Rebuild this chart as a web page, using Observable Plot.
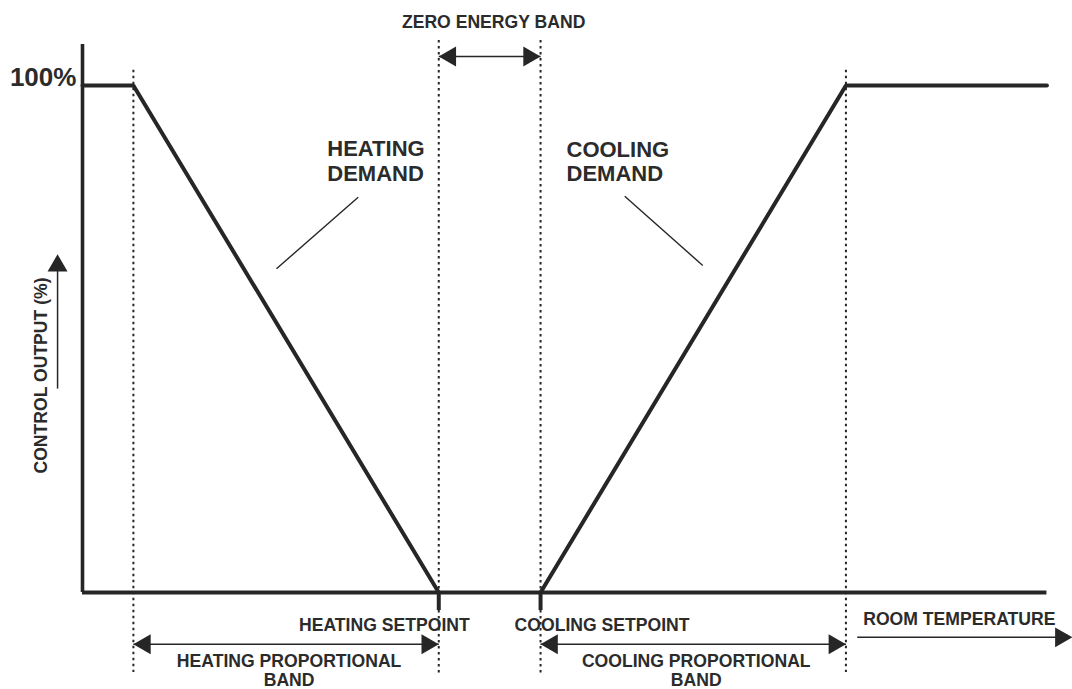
<!DOCTYPE html>
<html>
<head>
<meta charset="utf-8">
<script src="https://cdn.jsdelivr.net/npm/d3@7"></script>
<script src="https://cdn.jsdelivr.net/npm/@observablehq/plot@0.6"></script>
<style>
  html, body { margin: 0; padding: 0; background: #fff; }
</style>
</head>
<body>
<div id="chart"></div>
<script>
// ---- Data (room temperature in arbitrary band units, control output in %) ----
const heatingTemp = [0, 1, 7];
const heatingOutput = [100, 100, 0];
const coolingTemp = [9, 15, 18.95];
const coolingOutput = [0, 100, 100];

const axisEndTemp = 18.95;
const axisTopOutput = 108.1;

const setpointTemp = [7, 9];
const setpointNames = ["HEATING SETPOINT", "COOLING SETPOINT"];

const guideTemp = [1, 7, 9, 15];
const guideTop = [103, 108.9, 108.9, 103];
const guideBottom = [-15.8, -16, -16, -15.8];

const bandNames = ["ZERO ENERGY BAND", "HEATING PROPORTIONAL\nBAND", "COOLING PROPORTIONAL\nBAND"];
const bandStart = [7, 1, 9];
const bandEnd = [9, 7, 15];
const bandLevel = [105.7, -10.2, -10.2];

const roomTempArrow = {start: 15.34, end: 19.45, level: -8.85};
const outputArrow = {temp: -0.49, from: 41.4, to: 66.7};

const demandNames = ["HEATING\nDEMAND", "COOLING\nDEMAND"];
const demandTemp = [4.81, 9.51];
const demandOutput = [81.2, 81.1];
const leaderFrom = [[5.417, 77.97], [10.654, 78.17]];
const leaderTo = [[3.811, 63.85], [12.187, 64.5]];

// ---- Derived tables ----
const heating = heatingTemp.map((t, i) => ({t, o: heatingOutput[i]}));
const cooling = coolingTemp.map((t, i) => ({t, o: coolingOutput[i]}));
const guides = guideTemp.map((t, i) => ({t, top: guideTop[i], bottom: guideBottom[i]}));
const bands = bandNames.map((name, i) => ({name, a: bandStart[i], b: bandEnd[i], y: bandLevel[i]}));
const leaders = leaderFrom.map((f, i) => ({x1: f[0], y1: f[1], x2: leaderTo[i][0], y2: leaderTo[i][1]}));
const demands = demandNames.map((name, i) => ({name, t: demandTemp[i], o: demandOutput[i]}));

const ink = "#262626";
const txt = "#2b2b2b";
const font = "'Liberation Sans', Arial, Helvetica, sans-serif";
const small = 17.6;
const headR = 7.42;   // triangle head radius
const headOff = 11.5; // tip-to-centroid offset in px

const label = {lineAnchor: "bottom", fontSize: small, fontWeight: "bold", fill: txt};

const chart = Plot.plot({
  width: 1072,
  height: 689,
  marginLeft: 82,
  marginRight: 23,
  marginTop: 85,
  marginBottom: 97,
  x: {domain: [0, 19], axis: null},
  y: {domain: [0, 100], axis: null},
  style: {fontFamily: font, background: "#fff", overflow: "visible"},
  marks: [
    // dotted guide lines
    Plot.ruleX(guides, {x: "t", y1: "top", y2: "bottom", stroke: ink, strokeWidth: 2, strokeDasharray: "2.5,3.5"}),
    // axes
    Plot.ruleY([0], {x1: 0, x2: axisEndTemp, stroke: ink, strokeWidth: 4}),
    Plot.ruleX([0], {y1: 0, y2: axisTopOutput, stroke: ink, strokeWidth: 3.6}),
    // setpoint ticks
    Plot.ruleX(setpointTemp, {y1: 0, y2: -3.55, stroke: ink, strokeWidth: 4}),
    // demand curves
    Plot.line(heating, {x: "t", y: "o", stroke: ink, strokeWidth: 4, strokeLinejoin: "miter"}),
    Plot.line(cooling, {x: "t", y: "o", stroke: ink, strokeWidth: 4, strokeLinejoin: "miter"}),
    // band arrows
    Plot.link(bands, {x1: "a", x2: "b", y1: "y", y2: "y", stroke: ink, strokeWidth: 1.5}),
    Plot.dot(bands, {x: "a", y: "y", symbol: "triangle", r: headR, rotate: -90, dx: headOff, fill: ink, stroke: "none"}),
    Plot.dot(bands, {x: "b", y: "y", symbol: "triangle", r: headR, rotate: 90, dx: -headOff, fill: ink, stroke: "none"}),
    // room temperature arrow
    Plot.link([roomTempArrow], {x1: "start", x2: "end", y1: "level", y2: "level", stroke: ink, strokeWidth: 1.5, dx: -6}),
    Plot.dot([roomTempArrow], {x: "end", y: "level", symbol: "triangle", r: headR, rotate: 90, dx: -headOff, fill: ink, stroke: "none"}),
    // control output arrow
    Plot.link([outputArrow], {x1: "temp", x2: "temp", y1: "from", y2: "to", stroke: ink, strokeWidth: 1.5, dy: 6}),
    Plot.dot([outputArrow], {x: "temp", y: "to", symbol: "triangle", r: headR, dy: headOff, fill: ink, stroke: "none"}),
    // leader lines
    Plot.link(leaders, {x1: "x1", y1: "y1", x2: "x2", y2: "y2", stroke: ink, strokeWidth: 1.4}),
    // texts
    Plot.text(["100%"], {...label, x: -0.12, y: 100, text: d => d, textAnchor: "end", fontSize: 26}),
    Plot.text([bands[0]], {...label, x: 8, y: 111.4, text: "name", textAnchor: "middle", dx: 4}),
    Plot.text(bands.slice(1), {...label, x: d => (d.a + d.b) / 2, y: -18.4, text: "name", textAnchor: "middle", lineHeight: 1.04, dx: 3}),
    Plot.text([setpointNames[0]], {...label, x: setpointTemp[0], y: -7.5, text: d => d, textAnchor: "end", dx: 31}),
    Plot.text([setpointNames[1]], {...label, x: setpointTemp[1], y: -7.5, text: d => d, textAnchor: "start", dx: -26}),
    Plot.text(["ROOM TEMPERATURE"], {...label, x: roomTempArrow.start, y: -6.5, text: d => d, textAnchor: "start"}),
    Plot.text(demands, {...label, x: "t", y: "o", text: "name", textAnchor: "start", lineHeight: 1.11, fontSize: 22}),
    Plot.text(["CONTROL OUTPUT (%)"], {...label, x: -0.81, y: 42.8, text: d => d, rotate: -90, textAnchor: "middle", lineAnchor: "middle"})
  ]
});

document.getElementById("chart").appendChild(chart);
</script>
</body>
</html>
